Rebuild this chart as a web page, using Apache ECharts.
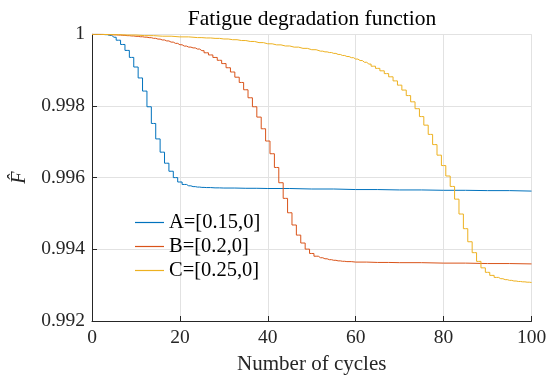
<!DOCTYPE html>
<html>
<head>
<meta charset="utf-8">
<script src="https://cdn.jsdelivr.net/npm/echarts@6/dist/echarts.min.js"></script>
<style>html,body{margin:0;padding:0;background:#fff}#c{width:553px;height:380px}</style>
</head>
<body>
<div id="c"></div>
<script>
const titleText = 'Fatigue degradation function';
const xName = 'Number of cycles';
const yName = 'F\u0302';
const seriesNames = ['A=[0.15,0]', 'B=[0.2,0]', 'C=[0.25,0]'];
const xTicks = [0, 20, 40, 60, 80, 100];
const yTicks = [0.992, 0.994, 0.996, 0.998, 1];

const aCycles = [0,1,2,3,4,5,6,7,8,9,10,11,12,13,14,15,16,17,18,19,20,21,22,23,24,25,26,28,30,35,40,50,60,70,80,90,100];
const aF = [1,1,0.999998,0.99999,0.999968,0.999918,0.999835,0.999716,0.999551,0.999355,0.999087,0.998782,0.998416,0.997978,0.997512,0.997081,0.996711,0.996403,0.996179,0.996001,0.995879,0.99581,0.995772,0.99575,0.995737,0.995728,0.995723,0.995715,0.99571,0.995703,0.995697,0.995683,0.995668,0.995657,0.995647,0.995638,0.995625];

const bCycles = [0,1,2,3,4,5,6,7,8,9,10,11,12,13,14,15,16,17,18,19,20,21,22,23,24,25,26,27,28,29,30,31,32,33,34,35,36,37,38,39,40,41,42,43,44,45,46,47,48,49,50,51,52,53,54,55,56,57,58,60,65,70,80,90,100];
const bF = [1,1,0.999998,0.999995,0.99999,0.999985,0.999979,0.999971,0.999962,0.999953,0.999943,0.999932,0.99992,0.999906,0.999888,0.999866,0.999842,0.999815,0.999782,0.999747,0.999708,0.999671,0.999643,0.99962,0.999588,0.999543,0.999484,0.999424,0.999354,0.999275,0.999183,0.999067,0.998948,0.998803,0.998656,0.998452,0.998229,0.997978,0.99769,0.997364,0.997022,0.996667,0.996284,0.995858,0.995422,0.99502,0.994679,0.994397,0.994176,0.994006,0.993884,0.993808,0.993765,0.993736,0.993711,0.993694,0.993678,0.993666,0.993657,0.993644,0.993634,0.993628,0.993615,0.993603,0.993593];

const cCycles = [0,4,8,12,16,20,24,26,28,30,32,34,36,38,40,42,44,46,48,50,52,53,54,55,56,57,58,59,60,61,62,63,64,65,66,67,68,69,70,71,72,73,74,75,76,77,78,79,80,81,82,83,84,85,86,87,88,89,90,91,92,93,94,95,96,97,98,99,100];
const cF = [1,0.99999,0.999979,0.999963,0.999947,0.999928,0.999908,0.999898,0.999886,0.999869,0.999849,0.999826,0.9998,0.999768,0.999735,0.999705,0.999674,0.999642,0.999608,0.99957,0.99953,0.99951,0.999491,0.999467,0.999438,0.999409,0.99938,0.999348,0.999309,0.999268,0.999219,0.999169,0.99911,0.99905,0.998981,0.998903,0.998814,0.9987,0.998581,0.998444,0.99829,0.998116,0.997924,0.997704,0.997465,0.997207,0.996922,0.996628,0.996337,0.996046,0.995755,0.9954,0.994985,0.994576,0.994211,0.993907,0.993664,0.993483,0.993358,0.993273,0.993216,0.99318,0.993154,0.993134,0.993116,0.993103,0.993093,0.993083,0.993074];

const colors = ['#0072BD', '#D95319', '#EDB120'];
const FONT = '"Liberation Serif", "DejaVu Serif", serif';

function pairs(xs, ys) { return xs.map((x, i) => [x, ys[i]]); }

const chart = echarts.init(document.getElementById('c'), null, {renderer: 'canvas'});
const mk = (name, xs, ys, col) => ({
  name: name, type: 'line', step: 'middle', data: pairs(xs, ys),
  showSymbol: false, symbol: 'none', lineStyle: {color: col, width: 1}, itemStyle: {color: col},
  animation: false
});
chart.setOption({
  animation: false,
  textStyle: {fontFamily: FONT},
  grid: {left: 92, right: 21.5, top: 34.3, bottom: 56, containLabel: false},
  graphic: [{
    type: 'text', x: 312, y: 19.5,
    style: {text: titleText, font: '21.5px ' + FONT, fill: '#000', textAlign: 'center', textVerticalAlign: 'middle'}
  }],
  legend: {
    orient: 'vertical', left: 135, top: 211.5, padding: 0, itemGap: 2,
    itemWidth: 29, itemHeight: 1.2, icon: 'rect',
    textStyle: {fontFamily: FONT, fontSize: 20.5, color: '#000', lineHeight: 22},
    data: seriesNames
  },
  xAxis: {
    type: 'value', min: xTicks[0], max: xTicks[xTicks.length - 1], interval: 20,
    name: xName, nameLocation: 'middle', nameGap: 33,
    nameTextStyle: {fontFamily: FONT, fontSize: 21, color: '#262626'},
    axisLine: {show: true, lineStyle: {color: '#262626', width: 1}},
    axisTick: {show: true, inside: true, length: 5, lineStyle: {color: '#262626'}},
    axisLabel: {fontFamily: FONT, fontSize: 19.5, color: '#262626', margin: 7},
    splitLine: {show: true, lineStyle: {color: '#e2e2e2', width: 1}}
  },
  yAxis: {
    type: 'value', min: yTicks[0], max: yTicks[yTicks.length - 1], interval: 0.002,
    name: yName, nameLocation: 'middle', nameGap: 50, nameRotate: 90,
    nameTextStyle: {fontFamily: FONT, fontSize: 20, fontStyle: 'italic', color: '#262626'},
    axisLine: {show: true, lineStyle: {color: '#262626', width: 1}},
    axisTick: {show: true, inside: true, length: 5, lineStyle: {color: '#262626'}},
    axisLabel: {fontFamily: FONT, fontSize: 19.5, color: '#262626', margin: 7,
      formatter: v => (Math.abs(v - 1) < 1e-9 ? '1' : v.toFixed(3))},
    splitLine: {show: true, lineStyle: {color: '#e2e2e2', width: 1}}
  },
  series: [
    mk(seriesNames[0], aCycles, aF, colors[0]),
    mk(seriesNames[1], bCycles, bF, colors[1]),
    mk(seriesNames[2], cCycles, cF, colors[2])
  ]
});
</script>
</body>
</html>
